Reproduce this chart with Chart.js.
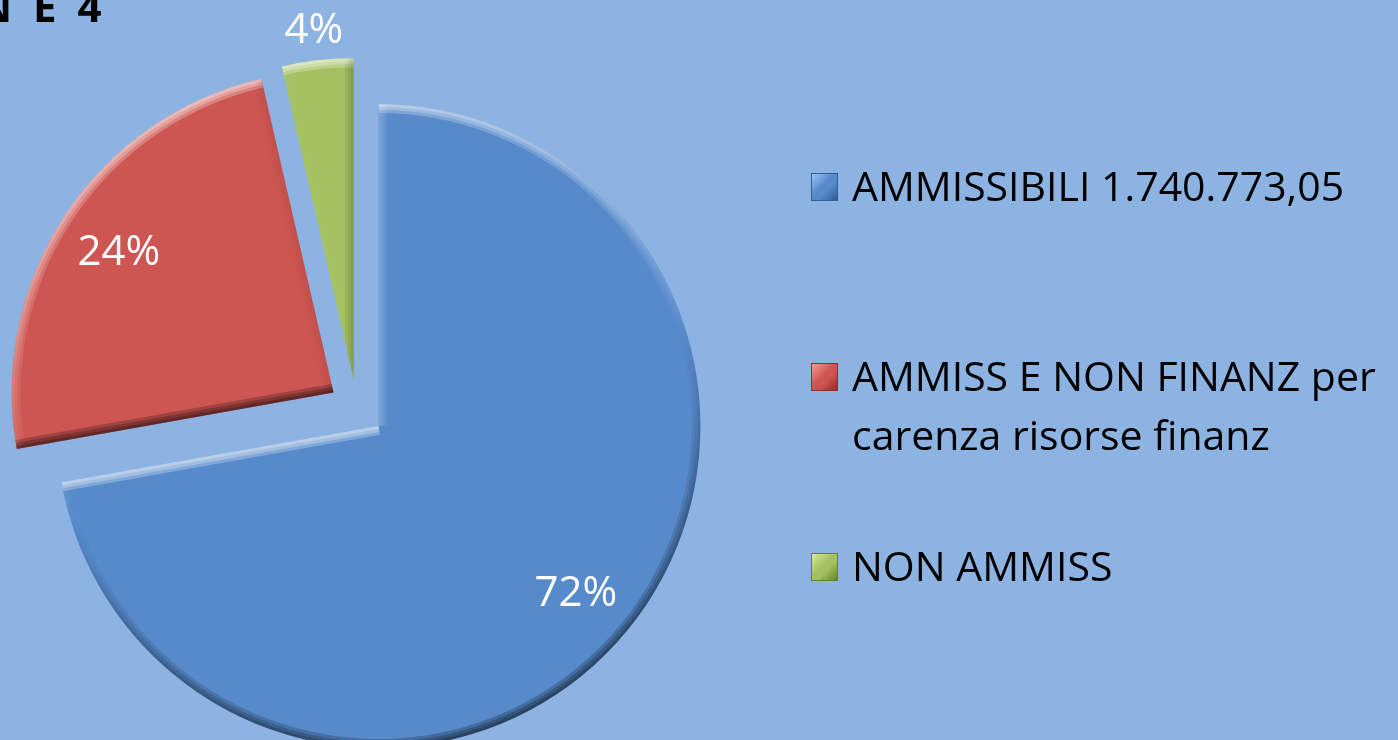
<!DOCTYPE html>
<html>
<head>
<meta charset="utf-8">
<script src="https://cdn.jsdelivr.net/npm/chart.js@4.4.1/dist/chart.umd.min.js"></script>
<style>
  html, body { margin: 0; padding: 0; background: #8DB3E2; }
  #wrap { position: relative; width: 1398px; height: 740px; overflow: hidden; background: #8DB3E2; font-family: "Open Sans", sans-serif; }
  #chart { position: absolute; left: 0; top: 0; }
  #title { position: absolute; left: -22px; top: -22px; font-weight: 700; font-size: 42px; line-height: 56px; letter-spacing: 5px; color: #000; white-space: nowrap; }
  .item { position: absolute; left: 811px; font-size: 41px; line-height: 59px; color: #000; white-space: nowrap; }
  .mk { position: absolute; left: 0; top: 17px; width: 27px; height: 28px; box-sizing: border-box; }
  .tx { position: absolute; left: 41px; top: 0; }
</style>
</head>
<body>
<div id="wrap">
  <canvas id="chart" width="1398" height="740"></canvas>
  <div id="title">N E 4</div>
  <div id="legend"></div>
</div>
<script>
// ---- data ----
const categories = [
  "AMMISSIBILI 1.740.773,05",
  "AMMISS E NON FINANZ per\ncarenza risorse finanz",
  "NON AMMISS"
];
const shares = [72.2, 24.2, 3.6];

// ---- style ----
const fillColors = ["#568ACB", "#CE5652", "#A4C05F"];
const lightColors = ["#9CC4F2", "#F39A95", "#D6E99A"];
const darkColors = ["#2F5E98", "#8E2E2B", "#6A8230"];
const legendTops = [156, 346, 536];
const EXPLODE = 28;
const BEVEL = [9, 6, 3];

// legend (HTML, real text)
const legend = document.getElementById('legend');
categories.forEach((c, i) => {
  const it = document.createElement('div');
  it.className = 'item';
  it.style.top = legendTops[i] + 'px';
  const mk = document.createElement('div');
  mk.className = 'mk';
  mk.style.background =
    `linear-gradient(135deg, ${lightColors[i]} 0%, ${fillColors[i]} 45%, ${fillColors[i]} 60%, ${darkColors[i]} 100%)`;
  mk.style.border = `1px solid ${darkColors[i]}`;
  const tx = document.createElement('div');
  tx.className = 'tx';
  tx.innerHTML = c.split('\n').join('<br>');
  it.appendChild(mk); it.appendChild(tx);
  legend.appendChild(it);
});

const explodePlugin = {
  id: 'explode',
  afterDatasetsUpdate(chart) {
    chart.getDatasetMeta(0).data.forEach(arc => {
      const mid = (arc.startAngle + arc.endAngle) / 2;
      arc.x += Math.cos(mid) * EXPLODE;
      arc.y += Math.sin(mid) * EXPLODE;
    });
  }
};

// light coming from top (slightly left)
const LX = -0.3 / Math.hypot(0.3, 1), LY = -1 / Math.hypot(0.3, 1);
function shadeColor(nx, ny) {
  const d = nx * LX + ny * LY;
  if (d >= 0) return `rgba(255,255,255,${(0.26 * d).toFixed(3)})`;
  return `rgba(0,0,0,${(0.22 * -d).toFixed(3)})`;
}

const bevelPlugin = {
  id: 'bevel',
  afterDatasetsDraw(chart) {
    const ctx = chart.ctx;
    chart.getDatasetMeta(0).data.forEach(arc => {
      const {x, y, startAngle: s, endAngle: e, outerRadius: R} = arc;
      ctx.save();
      ctx.beginPath();
      ctx.moveTo(x, y);
      ctx.arc(x, y, R, s, e);
      ctx.closePath();
      ctx.clip();
      ctx.lineCap = 'butt';
      const cg = ctx.createConicGradient(0, x, y);
      for (let k = 0; k <= 72; k++) {
        const a = k / 72 * Math.PI * 2;
        cg.addColorStop(k / 72, shadeColor(Math.cos(a), Math.sin(a)));
      }
      BEVEL.forEach(w => {
        ctx.lineWidth = 2 * w;
        ctx.strokeStyle = cg;
        ctx.beginPath();
        ctx.arc(x, y, R, s, e);
        ctx.stroke();
        const edges = [[s, s - Math.PI / 2], [e, e + Math.PI / 2]];
        edges.forEach(([ang, nAng]) => {
          ctx.strokeStyle = shadeColor(Math.cos(nAng), Math.sin(nAng));
          ctx.beginPath();
          ctx.moveTo(x, y);
          ctx.lineTo(x + Math.cos(ang) * R, y + Math.sin(ang) * R);
          ctx.stroke();
        });
      });
      ctx.restore();
    });
  }
};

const labelPlugin = {
  id: 'pctLabels',
  afterDatasetsDraw(chart) {
    const ctx = chart.ctx;
    const meta = chart.getDatasetMeta(0);
    const data = chart.data.datasets[0].data;
    const total = data.reduce((a, b) => a + b, 0);
    const fs = 42;
    ctx.save();
    ctx.font = fs + 'px "Open Sans"';
    ctx.fillStyle = '#FFFFFF';
    ctx.textAlign = 'center';
    ctx.textBaseline = 'alphabetic';
    meta.data.forEach((arc, i) => {
      const pct = data[i] / total * 100;
      const mid = (arc.startAngle + arc.endAngle) / 2;
      const r = pct < 10 ? arc.outerRadius + 32 : arc.outerRadius * 0.8;
      const x = arc.x + Math.cos(mid) * r;
      const y = arc.y + Math.sin(mid) * r;
      ctx.fillText(Math.round(pct) + '%', x, y + fs * 0.714 / 2);
    });
    ctx.restore();
  }
};

new Chart(document.getElementById('chart'), {
  type: 'pie',
  data: {
    labels: categories,
    datasets: [{
      data: shares,
      backgroundColor: fillColors,
      borderWidth: 0
    }]
  },
  options: {
    responsive: false,
    animation: false,
    events: [],
    radius: 322,
    layout: { padding: { left: 0, right: 684, top: 76, bottom: 0 } },
    plugins: { legend: { display: false }, tooltip: { enabled: false }, title: { display: false } }
  },
  plugins: [explodePlugin, bevelPlugin, labelPlugin]
});
</script>
</body>
</html>
